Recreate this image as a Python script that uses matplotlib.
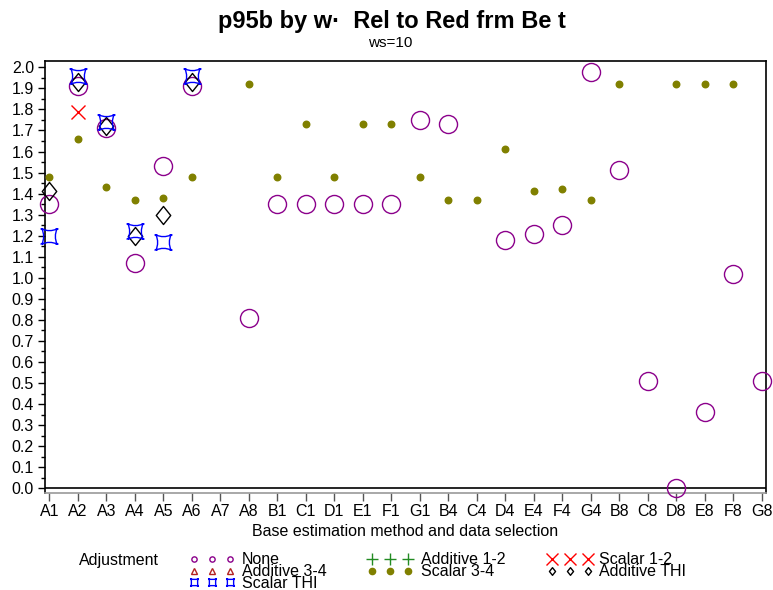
import numpy as np
import matplotlib
matplotlib.use('Agg')
import matplotlib.pyplot as plt
from matplotlib.path import Path
from matplotlib.lines import Line2D

plt.rcParams['font.family'] = ['Liberation Sans', 'DejaVu Sans']

nan = np.nan
categories = ['A1', 'A2', 'A3', 'A4', 'A5', 'A6', 'A7', 'A8', 'B1', 'C1', 'D1', 'E1', 'F1',
              'G1', 'B4', 'C4', 'D4', 'E4', 'F4', 'G4', 'B8', 'C8', 'D8', 'E8', 'F8', 'G8']

none_vals = [1.35, 1.91, 1.71, 1.07, 1.53, 1.91, nan, 0.81, 1.35, 1.35, 1.35, 1.35, 1.35,
             1.75, 1.73, nan, 1.18, 1.21, 1.25, 1.98, 1.51, 0.51, 0.00, 0.36, 1.02, 0.51]
additive12 = [nan] * 26
scalar12 = [nan, 1.79] + [nan] * 24
additive34 = [nan] * 26
scalar34 = [1.48, 1.66, 1.43, 1.37, 1.38, 1.48, nan, 1.92, 1.48, 1.73, 1.48, 1.73, 1.73,
            1.48, 1.37, 1.37, 1.61, 1.41, 1.42, 1.37, 1.92, nan, 1.92, 1.92, 1.92, nan]
additive_thi = [1.41, 1.93, 1.72, 1.20, 1.30, 1.93] + [nan] * 20
scalar_thi = [1.20, 1.96, 1.74, 1.22, 1.17, 1.96] + [nan] * 20

yticks = np.round(np.arange(0, 2.01, 0.1), 1)

# marker shapes
def star_path():
    c = 0.55
    verts = [(-1, -1), (0, -1 + (1 - c)), (1, -1),
             (1 - (1 - c), 0), (1, 1),
             (0, 1 - (1 - c)), (-1, 1),
             (-1 + (1 - c), 0), (-1, -1),
             (-1.2, -1), (-0.8, -1), (0.8, -1), (1.2, -1),
             (-1.2, 1), (-0.8, 1), (0.8, 1), (1.2, 1)]
    codes = [Path.MOVETO, Path.CURVE3, Path.CURVE3, Path.CURVE3, Path.CURVE3,
             Path.CURVE3, Path.CURVE3, Path.CURVE3, Path.CURVE3,
             Path.MOVETO, Path.LINETO, Path.MOVETO, Path.LINETO,
             Path.MOVETO, Path.LINETO, Path.MOVETO, Path.LINETO]
    return Path(verts, codes)

STAR = star_path()
DIAM = Path([(0, 1), (0.8, 0), (0, -1), (-0.8, 0), (0, 1)],
            [Path.MOVETO, Path.LINETO, Path.LINETO, Path.LINETO, Path.CLOSEPOLY])

purple = '#8B008B'
olive = '#808000'

# (values, marker, size, colour, filled, legend size)
series = [
    ('None', none_vals, 'o', 13, purple, False, 3.8),
    ('Additive 1-2', additive12, '+', 9, '#228B22', False, 8),
    ('Scalar 1-2', scalar12, 'x', 9.5, '#FF0000', False, 8.5),
    ('Additive 3-4', additive34, '^', 6, '#B22222', False, 4),
    ('Scalar 3-4', scalar34, 'o', 4.7, olive, True, 4.5),
    ('Additive THI', additive_thi, DIAM, 13, 'black', False, 5.5),
    ('Scalar THI', scalar_thi, STAR, 13, '#0000FF', False, 6.5),
]

fig = plt.figure(figsize=(7.73, 5.90), dpi=100)
ax = fig.add_axes([0.0582, 0.1639, 0.9327, 0.7327])

x = np.arange(len(categories))
for name, vals, mk, ms, col, filled, lms in series:
    ax.plot(x, vals, linestyle='none', marker=mk, markersize=ms,
            markeredgecolor=col, markerfacecolor=col if filled else 'none',
            markeredgewidth=1.0, clip_on=False, zorder=3)

ax.axhline(0, color='black', lw=1.2, zorder=2)
ax.set_xlim(-0.15, 25.15)
ax.set_ylim(-0.024, 2.03)
ax.set_xticks(x)
ax.set_xticklabels(categories, fontsize=11.5)
ax.set_yticks(yticks)
ax.set_yticklabels(['%.1f' % v for v in yticks], fontsize=11.5)
ax.set_yticks(np.arange(0.05, 2.0, 0.1), minor=True)
ax.tick_params(axis='y', which='major', length=5, width=1, pad=3)
ax.tick_params(axis='y', which='minor', length=3, width=1)
ax.tick_params(axis='x', length=6, width=1, color='#555555', pad=2)
for s in ['left', 'right', 'top']:
    ax.spines[s].set_color('black')
    ax.spines[s].set_linewidth(1.2)
ax.spines['bottom'].set_color('#999999')
ax.spines['bottom'].set_linewidth(1.2)

ax.set_xlabel('Base estimation method and data selection', fontsize=11.5, labelpad=3)

fig.text(0.507, 0.963, 'p95b by w\u00b7  Rel to Red frm Be t', ha='center', va='center',
         fontsize=17, fontweight='bold')
fig.text(0.505, 0.927, 'ws=10', ha='center', va='center', fontsize=11)

# legend, drawn by hand in figure pixels (labels overlap as in the original)
W, H = 773.0, 590.0
fig.text(79 / W, 1 - 560 / H, 'Adjustment', ha='left', va='center', fontsize=11.5)
cols = [(194, 242), (372, 421), (552, 599)]
rows = [559, 571, 582]
for i, (name, vals, mk, ms, col, filled, lms) in enumerate(series):
    cx, tx = cols[i % 3]
    ry = rows[i // 3]
    for k in range(3):
        fig.add_artist(Line2D([(cx + 18 * k) / W], [1 - ry / H], linestyle='none', marker=mk,
                              markersize=lms, markeredgecolor=col,
                              markerfacecolor=col if filled else 'none',
                              markeredgewidth=1.0, transform=fig.transFigure))
    fig.text(tx / W, 1 - (ry + 1) / H, name, ha='left', va='center', fontsize=11.5)

plt.savefig('out.png', dpi=100)
